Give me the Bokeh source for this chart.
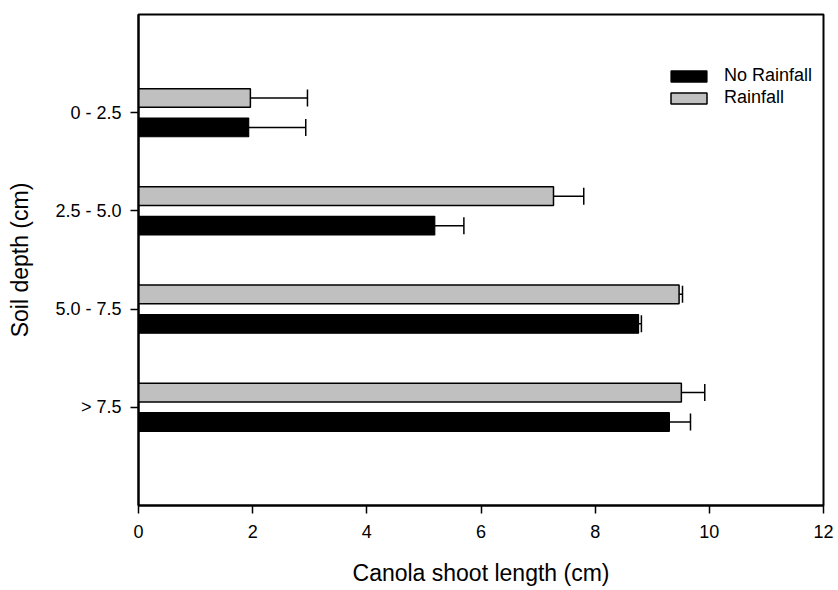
from bokeh.plotting import figure
from bokeh.models import (ColumnDataSource, Range1d, Whisker, TeeHead, Legend,
                          LegendItem, FixedTicker)
from bokeh.embed import file_html
from bokeh.resources import INLINE

# ---- data ----
categories = ["0 - 2.5", "2.5 - 5.0", "5.0 - 7.5", "> 7.5"]
cat_pos = [4, 3, 2, 1]
no_rain = [1.93, 5.19, 8.76, 9.30]
no_rain_err = [1.00, 0.51, 0.05, 0.37]
rain = [1.96, 7.27, 9.47, 9.51]
rain_err = [1.00, 0.53, 0.06, 0.41]
x_ticks = [0, 2, 4, 6, 8, 10, 12]

FONT = "Liberation Sans"
OFF = 0.15
BAR_H = 0.19

src_no = ColumnDataSource(dict(
    y=[c - OFF for c in cat_pos],
    right=no_rain,
    hi=[v + e for v, e in zip(no_rain, no_rain_err)],
))
src_rain = ColumnDataSource(dict(
    y=[c + OFF for c in cat_pos],
    right=rain,
    hi=[v + e for v, e in zip(rain, rain_err)],
))

p = figure(width=836, height=588, output_backend="svg", toolbar_location=None,
           x_range=Range1d(0, 12), y_range=Range1d(0, 5),
           min_border_left=138, min_border_right=13, min_border_top=14,
           min_border_bottom=79)
p.grid.visible = False
p.outline_line_color = "black"
p.outline_line_width = 2
p.background_fill_color = "white"
p.border_fill_color = "white"

r_no = p.hbar(y="y", left=0, right="right", height=BAR_H, source=src_no,
              fill_color="black", line_color="black", line_width=1.2)
r_rain = p.hbar(y="y", left=0, right="right", height=BAR_H, source=src_rain,
                fill_color="#c0c0c0", line_color="black", line_width=1.5)

for src in (src_no, src_rain):
    w = Whisker(source=src, base="y", lower="right", upper="hi",
                dimension="width", line_color="black", line_width=1.5,
                lower_head=None,
                upper_head=TeeHead(size=17, line_color="black", line_width=1.5))
    p.add_layout(w)

# axes
xa = p.xaxis[0]
xa.ticker = FixedTicker(ticks=x_ticks)
xa.axis_label = "Canola shoot length (cm)"
ya = p.yaxis[0]
ya.ticker = FixedTicker(ticks=cat_pos)
ya.major_label_overrides = {c: lab for c, lab in zip(cat_pos, categories)}
ya.axis_label = "Soil depth (cm)"

for ax in (xa, ya):
    ax.axis_line_width = 2
    ax.axis_line_color = "black"
    ax.major_tick_line_width = 1.5
    ax.major_tick_out = 8
    ax.major_tick_in = 0
    ax.minor_tick_line_color = None
    ax.major_label_text_font = FONT
    ax.major_label_text_font_size = "18px"
    ax.major_label_text_color = "black"
    ax.axis_label_text_font = FONT
    ax.axis_label_text_font_size = "23px"
    ax.axis_label_text_font_style = "normal"
    ax.axis_label_text_color = "black"
xa.major_label_standoff = 11
xa.axis_label_standoff = 19
ya.major_label_standoff = 9
ya.axis_label_standoff = 19

legend = Legend(items=[LegendItem(label="No Rainfall", renderers=[r_no]),
                       LegendItem(label="Rainfall", renderers=[r_rain])],
                location=(528, 397), padding=0, margin=0, spacing=1,
                glyph_width=45, glyph_height=14, label_height=14,
                label_standoff=13, border_line_color=None,
                background_fill_alpha=0,
                label_text_font=FONT, label_text_font_size="18px",
                label_text_color="black")
p.add_layout(legend)

open("out.html", "w").write(file_html(p, INLINE))
